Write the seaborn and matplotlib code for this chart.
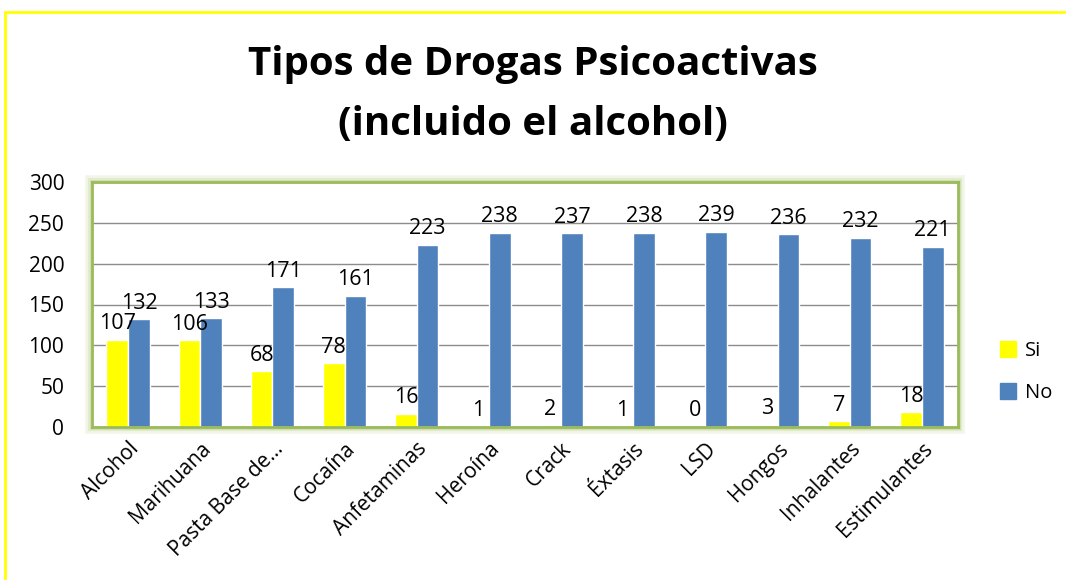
import pandas as pd
import matplotlib.pyplot as plt
import matplotlib.patches as mpatches
import seaborn as sns

# --- datos ---
categorias = ['Alcohol', 'Marihuana', 'Pasta Base de…', 'Cocaína', 'Anfetaminas', 'Heroína',
              'Crack', 'Éxtasis', 'LSD', 'Hongos', 'Inhalantes', 'Estimulantes']
si = [107, 106, 68, 78, 16, 1, 2, 1, 0, 3, 7, 18]
no = [132, 133, 171, 161, 223, 238, 237, 238, 239, 236, 232, 221]
series = ['Si', 'No']
colores = {'Si': '#FFFF00', 'No': '#4F81BD'}

df = pd.DataFrame({'categoria': categorias * 2,
                   'serie': ['Si'] * len(si) + ['No'] * len(no),
                   'valor': si + no})

sns.set_theme(style='white')
plt.rcParams['font.family'] = ['Open Sans', 'DejaVu Sans']
plt.rcParams['text.color'] = 'black'
plt.rcParams['xtick.color'] = 'black'
plt.rcParams['ytick.color'] = 'black'

fig = plt.figure(figsize=(10.66, 5.8), dpi=100)
ax = fig.add_axes([92 / 1066, 1 - 427 / 580, 866 / 1066, 245 / 580])

sns.barplot(data=df, x='categoria', y='valor', hue='serie', hue_order=series,
            palette=colores, width=0.6, saturation=1, ax=ax, legend=False)

for cont in ax.containers:
    ax.bar_label(cont, fontsize=15.5, padding=4, color='black')

ax.set_ylim(0, 300)
ax.set_xlim(-0.5, len(categorias) - 0.5)
ax.set_yticks(range(0, 301, 50))
ax.yaxis.grid(True, color='#8C8C8C', linewidth=1)
ax.set_axisbelow(True)
ax.set_xlabel('')
ax.set_ylabel('')
ax.tick_params(axis='y', labelsize=15, pad=14)
ax.tick_params(axis='x', labelsize=15, pad=2)
plt.setp(ax.get_xticklabels(), rotation=45, ha='right', rotation_mode='anchor')
for s in ax.spines.values():
    s.set_color('#9BBB59')
    s.set_linewidth(2)

# brillo verde alrededor del area de trazado
for lw, a in [(10, 0.12), (6, 0.18), (3.5, 0.25)]:
    fig.add_artist(mpatches.Rectangle((92 / 1066, 1 - 427 / 580), 866 / 1066, 245 / 580,
                                      transform=fig.transFigure, fill=False,
                                      edgecolor='#9BBB59', linewidth=lw, alpha=a,
                                      zorder=0))

fig.suptitle('Tipos de Drogas Psicoactivas\n(incluido el alcohol)', fontsize=29,
             fontweight='bold', y=0.922, linespacing=1.68, color='black')

handles = [mpatches.Patch(color=colores[s], label=s) for s in series]
fig.legend(handles=handles, loc='center left', bbox_to_anchor=(1000 / 1066, 1 - 372 / 580),
           frameon=False, fontsize=14.5, handlelength=0.8, handleheight=0.8,
           labelspacing=1.1, handletextpad=0.45, borderpad=0, borderaxespad=0)

# marco amarillo
fig.add_artist(mpatches.Rectangle((5 / 1066, -0.1), 1.2, 1 - 12 / 580 + 0.1,
                                  transform=fig.transFigure, fill=False,
                                  edgecolor='#FFFF00', linewidth=2))

fig.savefig('out.png', dpi=100)
